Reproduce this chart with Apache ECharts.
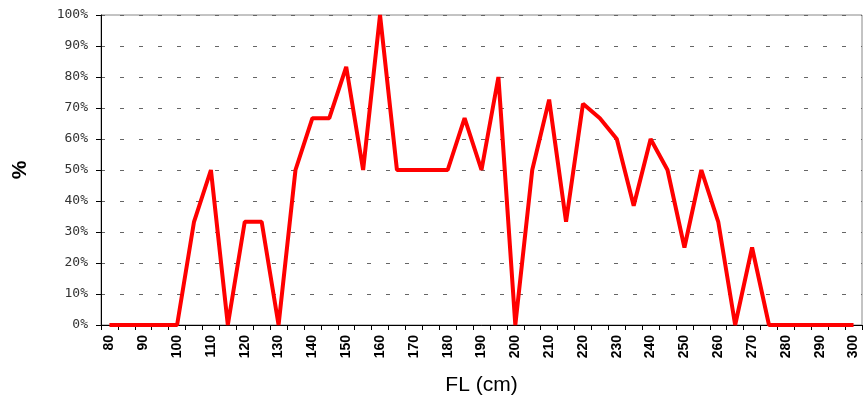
<!DOCTYPE html>
<html>
<head>
<meta charset="utf-8">
<script src="https://cdn.jsdelivr.net/npm/echarts@6/dist/echarts.min.js"></script>
<style>
html,body{margin:0;padding:0;background:#fff;}
#main{width:863px;height:405px;}
</style>
</head>
<body>
<div id="main"></div>
<script>
var categories = [80,85,90,95,100,105,110,115,120,125,130,135,140,145,150,155,160,165,170,175,180,185,190,195,200,205,210,215,220,225,230,235,240,245,250,255,260,265,270,275,280,285,290,295,300];
var percentValues = [0,0,0,0,0,33.3,50,0,33.3,33.3,0,50,66.7,66.7,83.3,50,100,50,50,50,50,66.7,50,80,0,50,72.7,33.3,71.4,66.7,60,38.5,60,50,25,50,33.3,0,25,0,0,0,0,0,0];
var yTicks = [0,10,20,30,40,50,60,70,80,90,100];
var xTitle = 'FL (cm)';
var yTitle = '%';

var chart = echarts.init(document.getElementById('main'));
chart.setOption({
  animation: false,
  backgroundColor: '#fff',
  grid: {left: 101, right: 1, top: 15, bottom: 80, show: true, borderColor: '#888', borderWidth: 1},
  xAxis: {
    type: 'category',
    data: categories.map(String),
    boundaryGap: true,
    axisLine: {lineStyle: {color: '#000', width: 1}},
    axisTick: {show: true, interval: 0, length: 5, lineStyle: {color: '#000'}},
    axisLabel: {interval: 1, rotate: 90, fontFamily: 'Liberation Sans', fontWeight: 'bold', fontSize: 14, color: '#000', margin: 10},
    name: xTitle,
    nameLocation: 'middle',
    nameGap: 50,
    nameTextStyle: {fontFamily: 'Liberation Sans', fontSize: 21, color: '#000'}
  },
  yAxis: {
    type: 'value',
    min: 0, max: 100, interval: 10,
    axisLine: {show: true, lineStyle: {color: '#000', width: 1}},
    axisTick: {show: true, length: 5, lineStyle: {color: '#000'}},
    axisLabel: {formatter: function(v){ return yTicks.indexOf(v) >= 0 ? v + '%' : ''; }, fontFamily: 'DejaVu Sans Mono', fontSize: 13, color: '#333', margin: 13},
    splitLine: {show: true, lineStyle: {color: '#666', type: [4, 15], width: 1}},
    name: yTitle,
    nameLocation: 'middle',
    nameGap: 70,
    nameRotate: 90,
    nameTextStyle: {fontFamily: 'Liberation Sans', fontSize: 21, fontWeight: 'bold', color: '#000'}
  },
  series: [{
    type: 'line',
    data: percentValues,
    showSymbol: false,
    symbol: 'none',
    lineStyle: {color: '#ff0000', width: 4},
    itemStyle: {color: '#ff0000'}
  }]
});
</script>
</body>
</html>
